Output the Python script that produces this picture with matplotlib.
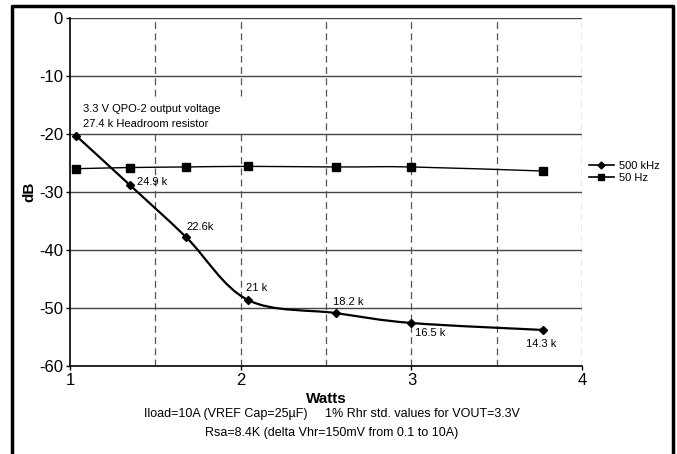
import numpy as np
import matplotlib
matplotlib.use("Agg")
import matplotlib.pyplot as plt
from matplotlib.path import Path
from matplotlib.patches import PathPatch, Rectangle
from matplotlib.lines import Line2D

plt.rcParams['font.family'] = ['Liberation Sans', 'DejaVu Sans']
plt.rcParams['axes.unicode_minus'] = False

# data
watts = [1.035, 1.35, 1.68, 2.04, 2.56, 3.0, 3.77]
db_500khz = [-20.3, -28.8, -37.8, -48.6, -50.9, -52.6, -53.8]
db_50hz = [-26.0, -25.8, -25.7, -25.6, -25.7, -25.7, -26.4]
res_labels = ["24.9 k", "22.6k", "21 k", "18.2 k", "16.5 k", "14.3 k"]
label_pos = [(1.395, -28.3), (1.68, -36.0), (2.03, -46.6), (2.54, -49.0),
             (3.02, -54.3), (3.67, -56.2)]


def smooth_path(x, y):
    # excel-style smoothed line: cubic bezier segments through the points
    pts = np.column_stack([x, y])
    n = len(pts)
    verts = [pts[0]]
    codes = [Path.MOVETO]
    for i in range(n - 1):
        p0 = pts[i - 1] if i > 0 else pts[i]
        p1 = pts[i]
        p2 = pts[i + 1]
        p3 = pts[i + 2] if i + 2 < n else pts[i + 1]
        c1 = p1 + (p2 - p0) / 6.0
        c2 = p2 - (p3 - p1) / 6.0
        verts += [c1, c2, p2]
        codes += [Path.CURVE4] * 3
    return Path(verts, codes)


fig = plt.figure(figsize=(6.77, 4.54), dpi=100)
ax = fig.add_axes([0.1034, 0.194, 0.7566, 0.7666])

ax.set_xlim(1, 4)
ax.set_ylim(-60, 0)
ax.set_yticks(np.arange(-60, 1, 10))
ax.set_xticks([1, 2, 3, 4])

# gridlines
for yv in range(-50, 1, 10):
    ax.axhline(yv, color='#444444', lw=1.0, zorder=1)
for xv in [1.5, 2, 2.5, 3, 3.5, 4]:
    ax.axvline(xv, color='#555555', lw=0.9, ls=(0, (5.5, 3.5)), zorder=1)

for s in ['top', 'right']:
    ax.spines[s].set_visible(False)
ax.spines['left'].set_linewidth(1.2)
ax.spines['bottom'].set_linewidth(1.2)
ax.tick_params(axis='both', labelsize=12, length=3, width=1, direction='out', pad=2)

# curves
ax.add_patch(PathPatch(smooth_path(watts, db_500khz), fill=False, lw=1.6,
                       color='black', zorder=3))
ax.add_patch(PathPatch(smooth_path(watts, db_50hz), fill=False, lw=1.0,
                       color='black', zorder=3))
ax.plot(watts, db_500khz, ls='none', marker='D', ms=4, color='black', zorder=4)
ax.plot(watts, db_50hz, ls='none', marker='s', ms=6, color='black', zorder=4)

# white text box behind the note (hides the dashed grid there)
ax.add_patch(Rectangle((1.06, -19.5), 1.05, 5.7, facecolor='white',
                       edgecolor='none', zorder=2))
ax.text(1.076, -15.7, "3.3 V QPO-2 output voltage", fontsize=8, va='center',
        ha='left', zorder=5)
ax.text(1.076, -18.3, "27.4 k Headroom resistor", fontsize=8, va='center',
        ha='left', zorder=5)
for lab, (lx, ly) in zip(res_labels, label_pos):
    ax.text(lx, ly, lab, fontsize=8, va='center', ha='left')

ax.set_xlabel("Watts", fontsize=11, fontweight='bold', labelpad=3)
ax.set_ylabel("dB", fontsize=11, fontweight='bold', labelpad=2)

handles = [Line2D([], [], color='black', lw=1.2, marker='D', ms=3.5),
           Line2D([], [], color='black', lw=1.2, marker='s', ms=5)]
fig.legend(handles, ["500 kHz", "50 Hz"], loc='center left',
           bbox_to_anchor=(0.862, 0.622), frameon=False, fontsize=8,
           handlelength=2.2, handletextpad=0.5, labelspacing=0.2, borderpad=0)

fig.text(0.49, 0.088, "Iload=10A (VREF Cap=25\u00b5F)     1% Rhr std. values for VOUT=3.3V",
         ha='center', va='center', fontsize=9)
fig.text(0.49, 0.046, "Rsa=8.4K (delta Vhr=150mV from 0.1 to 10A)",
         ha='center', va='center', fontsize=9)

# outer frame, open at the bottom
fx0, fx1, fy1 = 12 / 677, 673 / 677, 1 - 6 / 454
fig.add_artist(Line2D([fx0, fx0, fx1, fx1], [0, fy1, fy1, 0], color='black',
                      lw=2.5, transform=fig.transFigure))

fig.savefig("out.png", dpi=100)
